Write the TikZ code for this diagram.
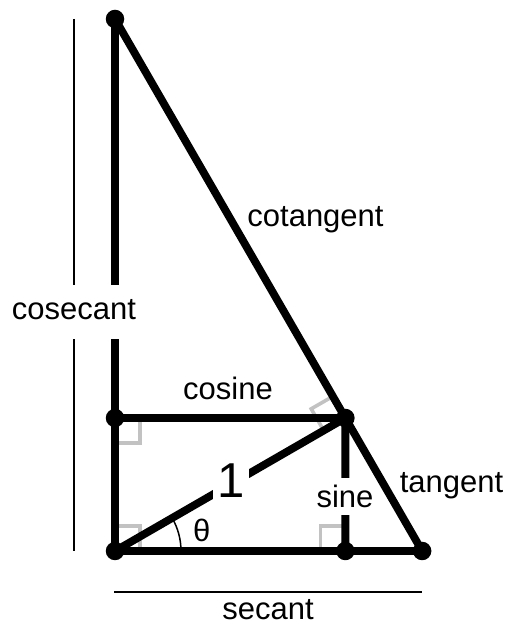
\documentclass[tikz,border=0pt]{standalone}
\usepackage{fontspec}
\setmainfont{Liberation Sans}
\usetikzlibrary{calc}
\begin{document}
\begin{tikzpicture}[x=1pt,y=1pt,
  thick line/.style={line width=7.8pt},
  thin line/.style={line width=2.2pt},
  rightmark/.style={line width=3.6pt,draw=markgray},
  dot/.style={circle,fill=black,inner sep=0pt,minimum size=18.5pt},
  lbl/.style={font=\fontsize{31}{37}\selectfont,anchor=base,inner sep=0pt}]
\definecolor{markgray}{HTML}{C2C2C2}
\useasboundingbox (0,0) rectangle (508,627);
% key points
\coordinate (O) at (115,76);
\coordinate (P) at ($(O)+(30:266)$);
\coordinate (C) at ($(O)+(0,133)$);
\coordinate (F) at ($(O)+(230.36,0)$);
\coordinate (T) at ($(O)+(307.15,0)$);
\coordinate (A) at ($(O)+(0,532)$);
% right angle marks
\draw[rightmark] ($(O)+(0,25)$) -| ($(O)+(25,0)$);
\draw[rightmark] ($(C)+(0,-25)$) -| ($(C)+(25,0)$);
\draw[rightmark] ($(F)+(-25,0)$) |- ($(F)+(0,25)$);
\draw[rightmark] ($(P)+(210:25)$) -- ($(P)+(210:25)+(120:25)$) -- ($(P)+(120:25)$);
% measure lines
\coordinate (cscTop) at (74,608);
\coordinate (cscBot) at (74,76);
\coordinate (secL) at (114,35.3);
\coordinate (secR) at (422,35.3);
\draw[thin line] (cscTop) -- (cscBot);
\draw[thin line] (secL) -- (secR);
% angle arc
\draw[line width=1.5pt] ($(O)+(66,0)$) arc[start angle=0,end angle=30,radius=66];
% thick lines
\draw[thick line] (A) -- (O) -- (T) -- (A);
\draw[thick line] (C) -- (P);
\draw[thick line] (O) -- (P);
\draw[thick line] (F) -- (P);
% dots
\node[dot] (dO) at (O) {};
\node[dot] (dP) at (P) {};
\node[dot] (dC) at (C) {};
\node[dot] (dF) at (F) {};
\node[dot] (dT) at (T) {};
\node[dot] (dA) at (A) {};
% labels
\node[lbl] (cos) at (228,227) {cosine};
\node[lbl] (cot) at (315.5,400) {cotangent};
\node[lbl] (tan) at (451.5,134) {tangent};
\node[lbl] (sec) at (268,8) {secant};
\node[lbl] (th) at (201.7,85.5) {θ};
\node[lbl,font=\fontsize{49}{55}\selectfont,fill=white,inner xsep=4pt,inner ysep=4pt] (one) at (231,129) {1};
\node[lbl,fill=white,text height=30pt,text depth=7pt] (sin) at (345,119) {sine};
\node[lbl,fill=white,text height=35pt,text depth=19pt,inner xsep=2pt] (csc) at (74,307) {cosecant};
\end{tikzpicture}
\end{document}
